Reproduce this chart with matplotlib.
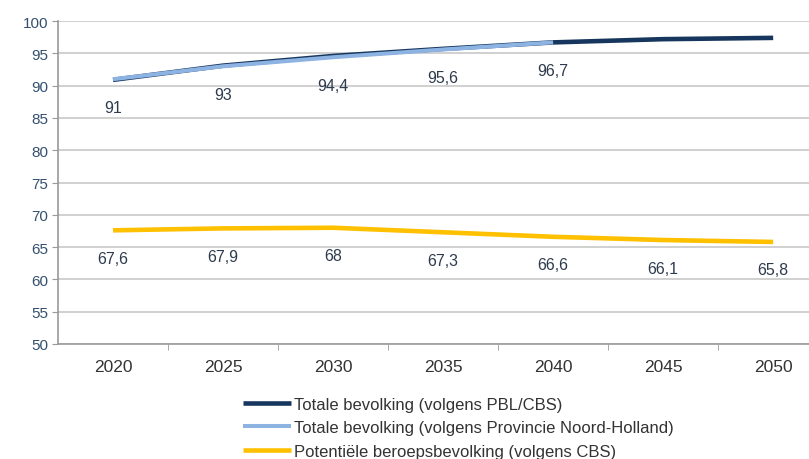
import matplotlib.pyplot as plt
import numpy as np

plt.rcParams['font.family'] = ['Liberation Sans', 'DejaVu Sans']

# jaartallen en reeksen (x 1000 inwoners / index)
jaren = ['2020', '2025', '2030', '2035', '2040', '2045', '2050']
pbl_cbs = [90.9, 93.1, 94.6, 95.7, 96.7, 97.2, 97.4]
prov_nh = [91, 93, 94.4, 95.6, 96.7]
beroeps = [67.6, 67.9, 68, 67.3, 66.6, 66.1, 65.8]

kleur_donker = '#17365d'
kleur_licht = '#8db3e2'
kleur_geel = '#ffc000'
kleur_tekst = '#2e3b4e'

fig = plt.figure(figsize=(8.09, 4.60), dpi=100)
ax = fig.add_axes([0.0717, 0.25, 0.952, 0.702])

x = np.arange(len(jaren))
ax.plot(x, pbl_cbs, color=kleur_donker, lw=3.3, solid_capstyle='butt', zorder=3,
        label='Totale bevolking (volgens PBL/CBS)')
ax.plot(x[:len(prov_nh)], prov_nh, color=kleur_licht, lw=2.9, solid_capstyle='butt', zorder=4,
        label='Totale bevolking (volgens Provincie Noord-Holland)')
ax.plot(x, beroeps, color=kleur_geel, lw=3.3, solid_capstyle='butt', zorder=3,
        label='Potentiële beroepsbevolking (volgens CBS)')

# waarden onder de punten
for reeks in (prov_nh, beroeps):
    for xi, v in zip(x, reeks):
        ax.annotate(f'{v:g}'.replace('.', ','), (xi, v), xytext=(0, -28), textcoords='offset pixels',
                    ha='center', va='center', fontsize=11.5, color=kleur_tekst)

ax.set_xlim(-0.5, len(jaren) - 0.5)
ax.set_ylim(50, 100)
ax.set_yticks(range(50, 101, 5))
ax.set_xticks(x)
ax.set_xticklabels(jaren)
ax.set_xticks(np.arange(0.5, len(jaren) - 1, 1), minor=True)

ax.grid(axis='y', color='#c8c8c8', lw=1.2)
ax.set_axisbelow(True)
for s in ['top', 'right']:
    ax.spines[s].set_visible(False)
for s in ['left', 'bottom']:
    ax.spines[s].set_color('#9a9a9a')
    ax.spines[s].set_linewidth(1.2)

ax.tick_params(axis='y', length=4, color='#9a9a9a', labelsize=11, labelcolor='#34506e', pad=3)
ax.tick_params(axis='x', which='major', length=0, labelsize=12.5, labelcolor='#333333', pad=11)
ax.tick_params(axis='x', which='minor', length=4, color='#9a9a9a')

leg = fig.legend(loc='upper left', bbox_to_anchor=(0.3, 0.135), frameon=False,
                 handlelength=2.9, handletextpad=0.15, labelspacing=0.5,
                 fontsize=12, borderpad=0, borderaxespad=0)
for t in leg.get_texts():
    t.set_color('#333333')

fig.savefig('out.png', dpi=100)
